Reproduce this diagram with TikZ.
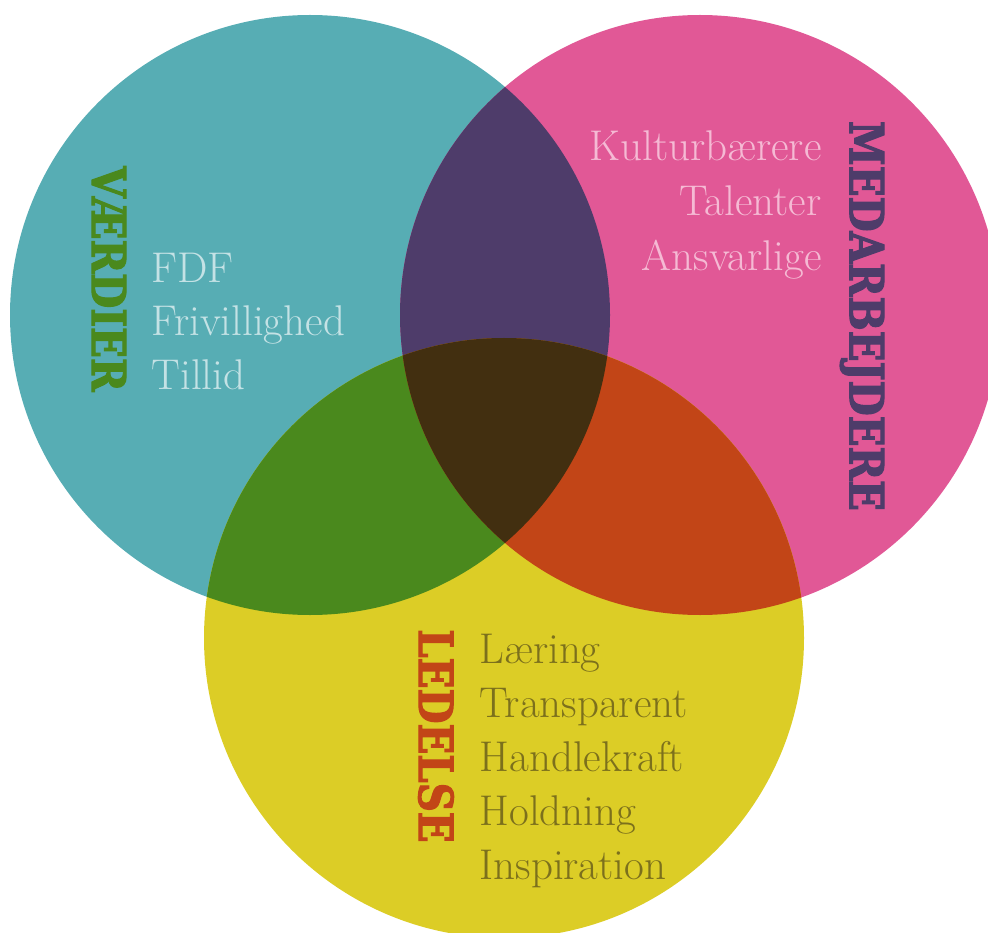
\documentclass[tikz,border=0pt]{standalone}
\usepackage{fontspec}
\newfontfamily\headfont[FakeStretch=0.86,FakeBold=2.5]{DejaVu Serif}
\newfontfamily\listfont{Latin Modern Roman}

\definecolor{vteal}{RGB}{87,173,180}
\definecolor{mpink}{RGB}{225,88,150}
\definecolor{lyellow}{RGB}{220,205,38}
\definecolor{vmpurple}{RGB}{78,60,106}
\definecolor{vlgreen}{RGB}{74,137,29}
\definecolor{mlorange}{RGB}{194,69,23}
\definecolor{alldark}{RGB}{66,47,16}
\definecolor{tealtext}{RGB}{196,226,229}
\definecolor{pinktext}{RGB}{245,186,212}
\definecolor{yellowtext}{RGB}{124,112,28}

\tikzset{
  head/.style={rotate=-90, font=\headfont\bfseries\fontsize{47}{47}\selectfont},
  item/.style={font=\listfont\fontsize{43}{43}\selectfont}
}

\begin{document}
\begin{tikzpicture}[x=1pt,y=-1pt]
    \useasboundingbox (0,0) rectangle (988,933);
    \clip (0,0) rectangle (988,933);

    % 三个圆
    \fill[vteal] (310,315) circle (300pt);
    \fill[mpink] (700,315) circle (300pt);
    \fill[lyellow] (504,638) circle (300pt);

    % 两两相交
    \begin{scope}
        \clip (310,315) circle (300pt);
        \fill[vmpurple] (700,315) circle (300pt);
        \fill[vlgreen] (504,638) circle (300pt);
    \end{scope}
    \begin{scope}
        \clip (700,315) circle (300pt);
        \fill[mlorange] (504,638) circle (300pt);
    \end{scope}

    % 三圆相交
    \begin{scope}
        \clip (310,315) circle (300pt);
        \clip (700,315) circle (300pt);
        \fill[alldark] (504,638) circle (300pt);
    \end{scope}

    % 标题
    \node[head, text=vlgreen] (vaerdier) at (109,279) {VÆRDIER};
    \node[head, text=vmpurple] (medarbejdere) at (862,316) {MEDARBEJDERE};
    \node[head, text=mlorange] (ledelse) at (436,736) {LEDELSE};

    % 文字
    \node[item, text=tealtext, anchor=base west] (fdf) at (148,283) {FDF};
    \node[item, text=tealtext, anchor=base west] (frivillighed) at (148,336) {Frivillighed};
    \node[item, text=tealtext, anchor=base west] (tillid) at (148,389) {Tillid};

    \node[item, text=pinktext, anchor=base east] (kulturbaerere) at (825,161) {Kulturbærere};
    \node[item, text=pinktext, anchor=base east] (talenter) at (825,216) {Talenter};
    \node[item, text=pinktext, anchor=base east] (ansvarlige) at (825,271) {Ansvarlige};

    \node[item, text=yellowtext, anchor=base west] (laering) at (476,663) {Læring};
    \node[item, text=yellowtext, anchor=base west] (transparent) at (476,717) {Transparent};
    \node[item, text=yellowtext, anchor=base west] (handlekraft) at (476,771) {Handlekraft};
    \node[item, text=yellowtext, anchor=base west] (holdning) at (476,825) {Holdning};
    \node[item, text=yellowtext, anchor=base west] (inspiration) at (476,879) {Inspiration};

\end{tikzpicture}
\end{document}
